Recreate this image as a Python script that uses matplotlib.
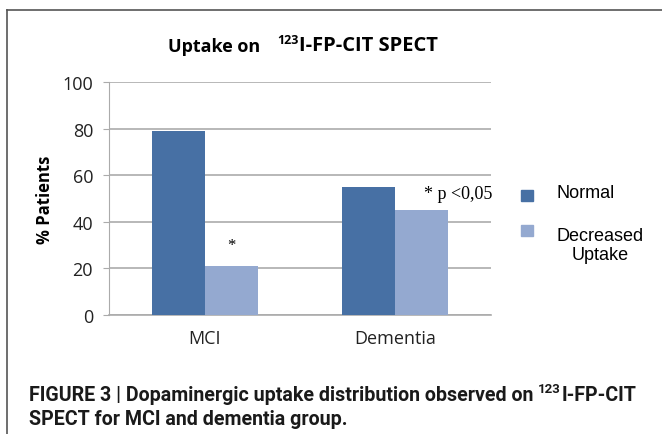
import numpy as np
import matplotlib
matplotlib.use("Agg")
import matplotlib.pyplot as plt
from matplotlib.patches import Rectangle
from matplotlib.lines import Line2D

# data
categories = ["MCI", "Dementia"]
normal = [79, 55]
decreased = [21, 45]
yticks = [0, 20, 40, 60, 80, 100]

c_normal = "#4770A4"
c_decr = "#94A9D0"
grid_c = "#ababab"

fig = plt.figure(figsize=(6.62, 4.35), dpi=100)
W, H = 662, 435

def fx(px):
    return px / W

def fy(py):
    return 1 - py / H

# outer frame (top + left)
fig.add_artist(Line2D([fx(7), 1], [fy(11), fy(11)], color="#555555", lw=1.2))
fig.add_artist(Line2D([fx(7), fx(7)], [fy(11), 0], color="#555555", lw=1.2))

ax = fig.add_axes([fx(109), fy(316), (491 - 109) / W, (316 - 83) / H])
x = np.arange(len(categories))
w = 0.28
ax.bar(x - w / 2, normal, w, color=c_normal, zorder=3)
ax.bar(x + w / 2, decreased, w, color=c_decr, zorder=3)
ax.set_xlim(-0.505, 1.505)
ax.set_ylim(0, 100)
ax.set_yticks(yticks)
ax.yaxis.grid(True, color=grid_c, lw=1.2, zorder=0)
for s in ["top", "right"]:
    ax.spines[s].set_visible(False)
ax.spines["left"].set_color(grid_c)
ax.spines["bottom"].set_color(grid_c)
ax.spines["bottom"].set_linewidth(1.2)
ax.tick_params(axis="y", color=grid_c, length=4.5, labelsize=13, pad=7, labelcolor="#222222")
ax.tick_params(axis="x", length=0, labelsize=13, pad=10, labelcolor="#222222")
ax.set_xticks(x)
ax.set_xticklabels(categories, family="Open Sans")
for t in ax.get_yticklabels():
    t.set_family("Open Sans")
ax.set_ylabel("% Patients", family="Open Sans", fontweight="bold", fontsize=12, labelpad=6)

# significance notes
ax.text(x[0] + w / 2, 30, "*", family="Liberation Serif", fontsize=12, ha="center", va="center")
ax.text(1.33, 52, "* p <0,05", family="Liberation Serif", fontsize=13, ha="center", va="center")

# title: "Uptake on   123I-FP-CIT SPECT"
tf = dict(family="Open Sans", fontweight="bold")
t1 = fig.text(fx(168), fy(56), "Uptake on", fontsize=13, va="bottom", **tf)
t2 = ax.annotate("123", xy=(1, 0), xycoords=t1, xytext=(12.5, 6.5), textcoords="offset points",
                 fontsize=9, va="bottom", annotation_clip=False, **tf)
ax.annotate("I-FP-CIT SPECT", xy=(1, 0), xycoords=(t2, t1), xytext=(0, 0), textcoords="offset points",
            fontsize=14.5, va="bottom", annotation_clip=False, **tf)

# legend
fig.add_artist(Rectangle((fx(521), fy(202)), 12 / W, 11 / H, color=c_normal))
fig.add_artist(Rectangle((fx(521), fy(237)), 12 / W, 11 / H, color=c_decr))
lfont = dict(family="Liberation Sans", fontsize=13)
fig.text(fx(557), fy(194), "Normal", va="center", ha="left", **lfont)
fig.text(fx(600), fy(246), "Decreased\nUptake", va="center", ha="center", linespacing=1.15, **lfont)

# caption
cf = dict(family="Roboto", fontweight="bold", color="#1a1a1a")
c1 = fig.text(fx(29), fy(405), "FIGURE 3 | Dopaminergic uptake distribution observed on",
              fontsize=14.1, va="bottom", **cf)
c2 = ax.annotate("123", xy=(1, 0), xycoords=c1, xytext=(3.5, 6.5), textcoords="offset points",
                 fontsize=9.5, va="bottom", annotation_clip=False, **cf)
ax.annotate("I-FP-CIT", xy=(1, 0), xycoords=(c2, c1), xytext=(0.5, 0), textcoords="offset points",
            fontsize=14.1, va="bottom", annotation_clip=False, **cf)
fig.text(fx(29), fy(429), "SPECT for MCI and dementia group.", fontsize=14.1, va="bottom", **cf)

fig.savefig("out.png", dpi=100)
